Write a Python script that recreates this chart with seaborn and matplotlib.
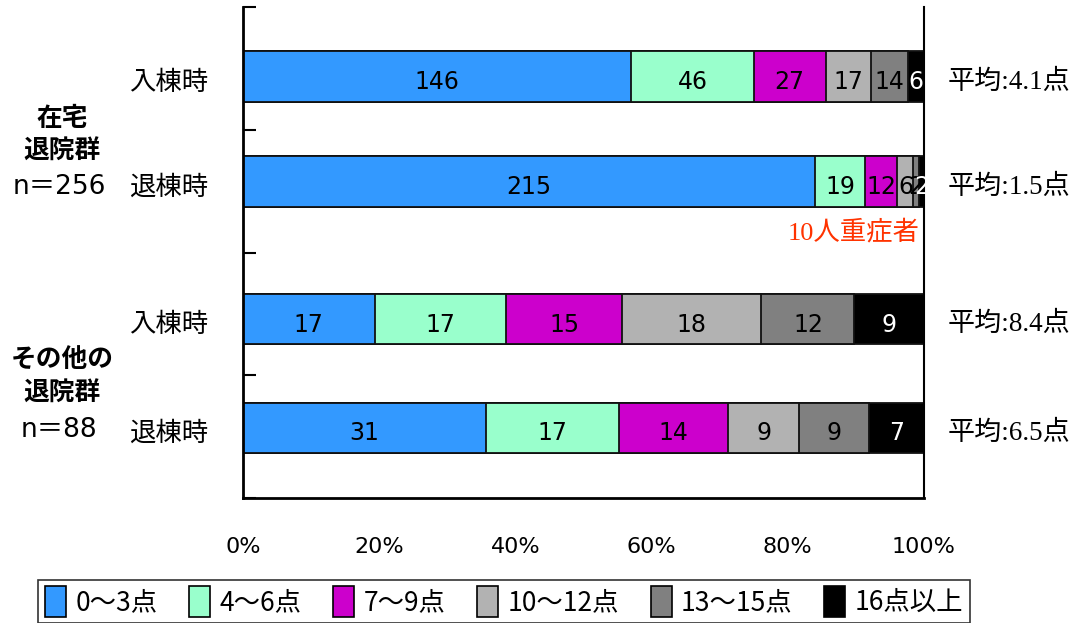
import numpy as np
import pandas as pd
import matplotlib
matplotlib.use("Agg")
import matplotlib.pyplot as plt
from matplotlib.patches import Patch
from matplotlib.ticker import FixedLocator, PercentFormatter
import seaborn as sns

# ---- data -------------------------------------------------------------
bands = ["0〜3点", "4〜6点", "7〜9点", "10〜12点", "13〜15点", "16点以上"]
band_colors = ["#3399FF", "#99FFCC", "#CC00CC", "#B2B2B2", "#808080", "#000000"]

stage_labels = ["入棟時", "退棟時", "入棟時", "退棟時"]
home_admit = [146, 46, 27, 17, 14, 6]
home_discharge = [215, 19, 12, 6, 2, 2]
other_admit = [17, 17, 15, 18, 12, 9]
other_discharge = [31, 17, 14, 9, 9, 7]
mean_scores = [4.1, 1.5, 8.4, 6.5]

group_names = ["在宅\n退院群", "その他の\n退院群"]
group_sizes = ["n＝256", "n＝88"]
severe_note = "10人重症者"

# ---- layout -----------------------------------------------------------
row_pos = [0.566, 1.422, 2.543, 3.427]   # bar centres between boundary ticks 0..4
bar_thickness = 0.41

rows = [home_admit, home_discharge, other_admit, other_discharge]

sns.set_style("white")
plt.rcParams["font.family"] = ["Liberation Sans Narrow", "Noto Sans CJK JP", "DejaVu Sans"]
plt.rcParams["axes.unicode_minus"] = False
for key in ("text.color", "axes.labelcolor", "xtick.color", "ytick.color"):
    plt.rcParams[key] = "black"

fig = plt.figure(figsize=(10.87, 6.23), dpi=100)
ax = fig.add_axes([243 / 1087, 1 - 498 / 623, (924 - 243) / 1087, (498 - 7) / 623])

# long table of cumulative shares, one line per row and band
records = []
for i, vals in enumerate(rows):
    vals = np.asarray(vals, dtype=float)
    pct = vals / vals.sum() * 100
    cum = np.cumsum(pct)
    for k, b in enumerate(bands):
        records.append({"pos": row_pos[i], "band": b, "cum": cum[k],
                        "pct": pct[k], "count": int(vals[k])})
df = pd.DataFrame(records)

# draw the widest cumulative layer first so each narrower one sits on top
width_arg = bar_thickness / np.diff(sorted(row_pos)).min()
sns.barplot(data=df, x="cum", y="pos", hue="band", hue_order=bands[::-1],
            palette=dict(zip(bands, band_colors)), orient="h", native_scale=True,
            dodge=False, saturation=1, width=width_arg, errorbar=None,
            edgecolor="#111111", linewidth=1.3, legend=False, ax=ax)

# segment counts
for _, r in df.iterrows():
    centre = r["cum"] - r["pct"] / 2
    col = "white" if r["band"] == bands[-1] else "black"
    ax.annotate(str(r["count"]), (centre, r["pos"]), xytext=(0, -4),
                textcoords="offset points", ha="center", va="center",
                fontsize=17, color=col,
                family=["Liberation Sans Narrow", "DejaVu Sans"])

# axes styling
ax.set_xlim(0, 100)
ax.set_ylim(4, 0)
ax.set_xlabel("")
ax.set_ylabel("")
ax.xaxis.set_major_locator(FixedLocator([0, 20, 40, 60, 80, 100]))
ax.xaxis.set_major_formatter(PercentFormatter(decimals=0))
ax.yaxis.set_major_locator(FixedLocator([0, 1, 2, 3, 4]))
ax.yaxis.set_major_formatter(plt.NullFormatter())
ax.tick_params(axis="x", direction="in", length=9, width=1.5, pad=28,
               labelsize=16, colors="black")
ax.tick_params(axis="y", direction="in", length=9, width=1.5, left=True)
for lbl in ax.get_xticklabels():
    lbl.set_family(["Liberation Sans Narrow", "DejaVu Sans"])
ax.spines["top"].set_visible(False)
for side, lw in (("left", 2), ("bottom", 2), ("right", 1.5)):
    ax.spines[side].set_color("black")
    ax.spines[side].set_linewidth(lw)

# stage labels left of the bars, mean scores on the right
ytrans = matplotlib.transforms.blended_transform_factory(ax.transAxes, ax.transData)
for i, (lab, m) in enumerate(zip(stage_labels, mean_scores)):
    ax.annotate(lab, (-0.051, row_pos[i]), xycoords=ytrans, xytext=(0, -4),
                textcoords="offset points", ha="right", va="center",
                fontsize=19, family=["Noto Sans CJK JP"])
    ax.annotate(f"平均:{m:.1f}点", (1.035, row_pos[i]), xycoords=ytrans,
                xytext=(0, -4), textcoords="offset points", ha="left",
                va="center", fontsize=19.5,
                family=["Liberation Serif", "Noto Sans CJK JP"])

# note under the second bar
ax.text(89.7, 1.834, severe_note, ha="center", va="center", fontsize=19,
        color="#FF3300", family=["Liberation Serif", "Noto Sans CJK JP"])

# group headings
for name, size, (y1, y2) in zip(group_names, group_sizes, [(135, 187), (377, 430)]):
    fig.text(62 / 1087, 1 - y1 / 623, name, ha="center", va="center",
             fontsize=18.5, fontweight="bold", family=["Noto Sans CJK JP"],
             linespacing=1.3)
    fig.text(59 / 1087, 1 - y2 / 623, size, ha="center", va="center",
             fontsize=19, family=["DejaVu Sans", "Noto Sans CJK JP"])

# legend
handles = [Patch(facecolor=c, edgecolor="black", linewidth=1.2) for c in band_colors]
leg = fig.legend(handles, bands, loc="center", bbox_to_anchor=(504 / 1087, 1 - 601.5 / 623),
                 ncol=6, frameon=True, fancybox=False, edgecolor="black",
                 handlelength=0.8, handleheight=1.4, handletextpad=0.35,
                 columnspacing=1.2, borderpad=0.25,
                 prop={"family": ["Liberation Sans Narrow", "Noto Sans CJK JP"], "size": 19})
leg.get_frame().set_linewidth(1.2)

fig.savefig("out.png", dpi=100)
